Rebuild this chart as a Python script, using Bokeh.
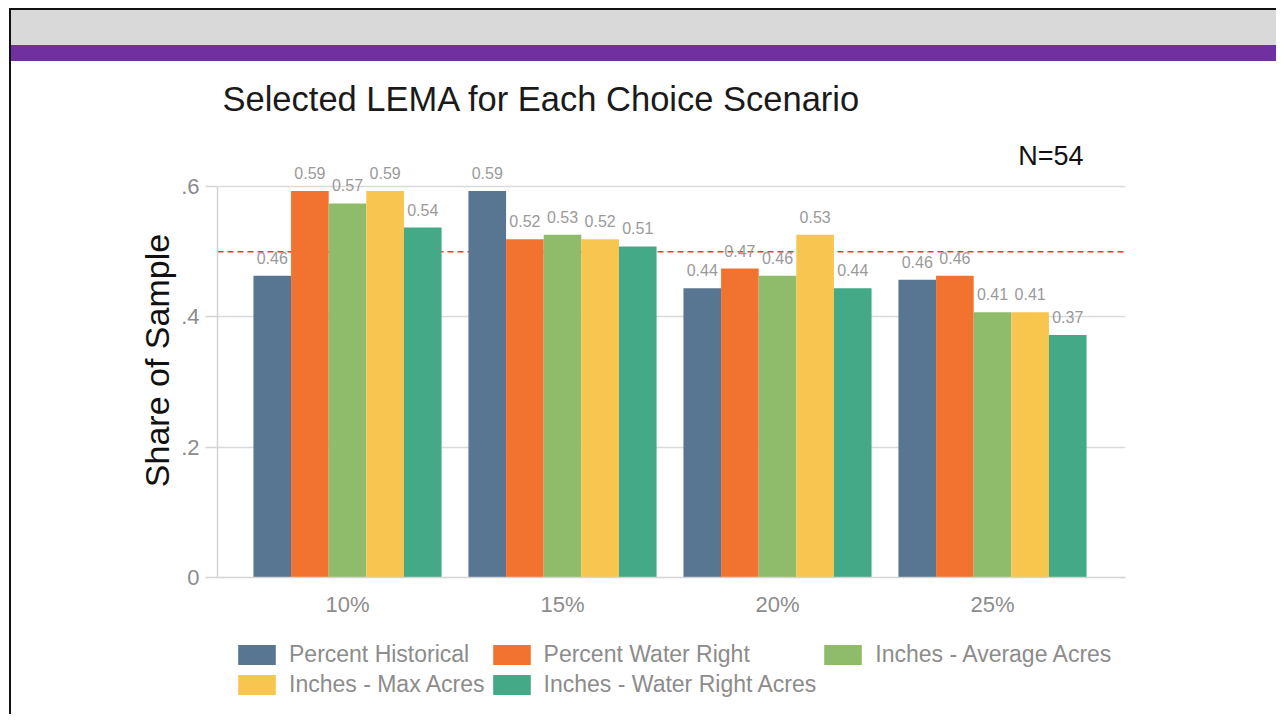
from bokeh.plotting import figure
from bokeh.models import (Range1d, FixedTicker, Span, Label, Legend, LegendItem,
                          Div, ColumnDataSource)
from bokeh.layouts import column
from bokeh.embed import file_html
from bokeh.resources import INLINE
from bokeh.core.properties import value

# ---------------- data ----------------
categories = ["10%", "15%", "20%", "25%"]
series_names = ["Percent Historical", "Percent Water Right", "Inches - Average Acres",
                "Inches - Max Acres", "Inches - Water Right Acres"]
percent_historical = [0.463, 0.593, 0.444, 0.457]
percent_water_right = [0.593, 0.519, 0.474, 0.463]
inches_average_acres = [0.574, 0.526, 0.463, 0.407]
inches_max_acres = [0.593, 0.519, 0.526, 0.407]
inches_water_right_acres = [0.537, 0.508, 0.444, 0.372]
series_values = [percent_historical, percent_water_right, inches_average_acres,
                 inches_max_acres, inches_water_right_acres]
colors = ["#587591", "#f27330", "#8fbc6a", "#f8c54e", "#43a987"]
reference_line = 0.5
sample_note = "N=54"
y_ticks = [0, 0.2, 0.4, 0.6]
y_tick_labels = ["0", ".2", ".4", ".6"]
title_text = "Selected LEMA for Each Choice Scenario"
y_label = "Share of Sample"

FONT = "Liberation Sans"
GRAY_TXT = "#8c8c8c"

W = 1265
X_RANGE = Range1d(-0.6047, 3.6186)
bar_w = 0.175


def strip(height, x_range, y_range):
    f = figure(width=W, height=height, output_backend="svg", toolbar_location=None,
               x_range=x_range, y_range=y_range, min_border=0, margin=(0, 0, 0, 2))
    f.outline_line_color = None
    f.axis.visible = False
    f.grid.grid_line_color = None
    f.border_fill_color = "white"
    f.background_fill_color = "white"
    return f


# ---------------- title strip ----------------
TH = 60
pt = strip(TH, X_RANGE, Range1d(0, TH))
pt.add_layout(Label(x=-0.5814, y=TH - 37, text=title_text, text_font=FONT,
                    text_font_size="34.5px", text_color="#1a1a1a",
                    text_baseline="middle", text_align="left"))

# ---------------- main chart ----------------
H = 504
p = figure(width=W, height=H, output_backend="svg", toolbar_location=None,
           x_range=X_RANGE, y_range=Range1d(0, 0.666),
           min_border_left=206, min_border_right=151, min_border_top=22,
           min_border_bottom=48, margin=(0, 0, 0, 2))
p.outline_line_color = None
p.background_fill_color = "white"
p.border_fill_color = "white"

for i, (name, vals, col) in enumerate(zip(series_names, series_values, colors)):
    off = (i - 2) * bar_w
    src = ColumnDataSource(dict(
        x=[k + off for k in range(len(categories))],
        top=vals,
        lab=["%.2f" % v for v in vals],
    ))
    p.vbar(x="x", top="top", width=bar_w, source=src, fill_color=col, line_color=None)
    p.text(x="x", y="top", text="lab", source=src, text_align="center",
           text_baseline="bottom", y_offset=-12, text_font=value(FONT),
           text_font_size="16px", text_color="#9a9a9a")

p.add_layout(Span(location=reference_line, dimension="width", line_color="#ff3326",
                  line_dash="6 4", line_width=1.5, level="underlay"))

p.add_layout(Label(x=3.12, y=(577 - 155) / 651.7, text=sample_note, text_font=FONT,
                   text_font_size="27px", text_color="#111111",
                   text_baseline="middle", text_align="left"))

p.xaxis.ticker = FixedTicker(ticks=list(range(len(categories))))
p.xaxis.major_label_overrides = {k: c for k, c in enumerate(categories)}
p.xaxis.major_tick_line_color = None
p.xaxis.minor_tick_line_color = None
p.xaxis.major_tick_out = 0
p.xaxis.major_label_standoff = 14
p.xaxis.axis_line_color = "#d4d4d4"
p.xaxis.axis_line_width = 1.5
p.xaxis.major_label_text_font = FONT
p.xaxis.major_label_text_font_size = "22px"
p.xaxis.major_label_text_color = GRAY_TXT

p.yaxis.ticker = FixedTicker(ticks=y_ticks)
p.yaxis.bounds = (y_ticks[0], y_ticks[-1])
p.yaxis.major_label_overrides = {t: l for t, l in zip(y_ticks, y_tick_labels)}
p.yaxis.minor_tick_line_color = None
p.yaxis.major_tick_out = 12
p.yaxis.major_tick_in = 0
p.yaxis.major_tick_line_color = "#d4d4d4"
p.yaxis.major_tick_line_width = 1.5
p.yaxis.axis_line_color = "#d4d4d4"
p.yaxis.axis_line_width = 1.5
p.yaxis.major_label_standoff = 6
p.yaxis.major_label_text_font = FONT
p.yaxis.major_label_text_font_size = "22px"
p.yaxis.major_label_text_color = GRAY_TXT
p.yaxis.axis_label = y_label
p.yaxis.axis_label_text_font = FONT
p.yaxis.axis_label_text_font_size = "34px"
p.yaxis.axis_label_text_font_style = "normal"
p.yaxis.axis_label_text_color = "#111111"
p.yaxis.axis_label_standoff = 2

p.xgrid.grid_line_color = None
p.ygrid.grid_line_color = "#dadada"
p.ygrid.grid_line_width = 1.5

# ---------------- legend strip ----------------
LH = 89
# the key bars of this strip lie far outside its view; only the legend shows
pl = strip(LH, Range1d(100, 101), Range1d(100, 101))
key_renderers = []
for i, (vals, col) in enumerate(zip(series_values, colors)):
    off = (i - 2) * bar_w
    key_renderers.append(pl.vbar(x=[k + off for k in range(len(categories))], top=vals,
                                 width=bar_w, fill_color=col, line_color=None))
legend = Legend(items=[LegendItem(label=n, renderers=[r], index=0)
                       for n, r in zip(series_names, key_renderers)],
                orientation="horizontal", nrows=2, location=(16, 16))
legend.label_text_font = FONT
legend.label_text_font_size = "23px"
legend.label_text_color = GRAY_TXT
legend.glyph_width = 47
legend.glyph_height = 25
legend.label_standoff = 9
legend.spacing = 3
legend.padding = 0
legend.margin = 0
legend.border_line_color = None
legend.background_fill_alpha = 0
pl.add_layout(legend)

# ---------------- slide decoration ----------------
top_line = Div(width=W + 2, height=2, margin=0, styles={"background-color": "#111111"})
gray_bar = Div(width=W, height=35, margin=(0, 0, 0, 2),
               styles={"background-color": "#d9d9d9"})
purple_bar = Div(width=W, height=16, margin=(0, 0, 0, 2),
                 styles={"background-color": "#7030a0"})

layout = column(top_line, gray_bar, purple_bar, pt, p, pl, spacing=0, margin=(8, 0, 0, 9),
                styles={"background": "linear-gradient(to right, #111111 2px, transparent 2px)"})

open("out.html", "w").write(file_html(layout, INLINE))
